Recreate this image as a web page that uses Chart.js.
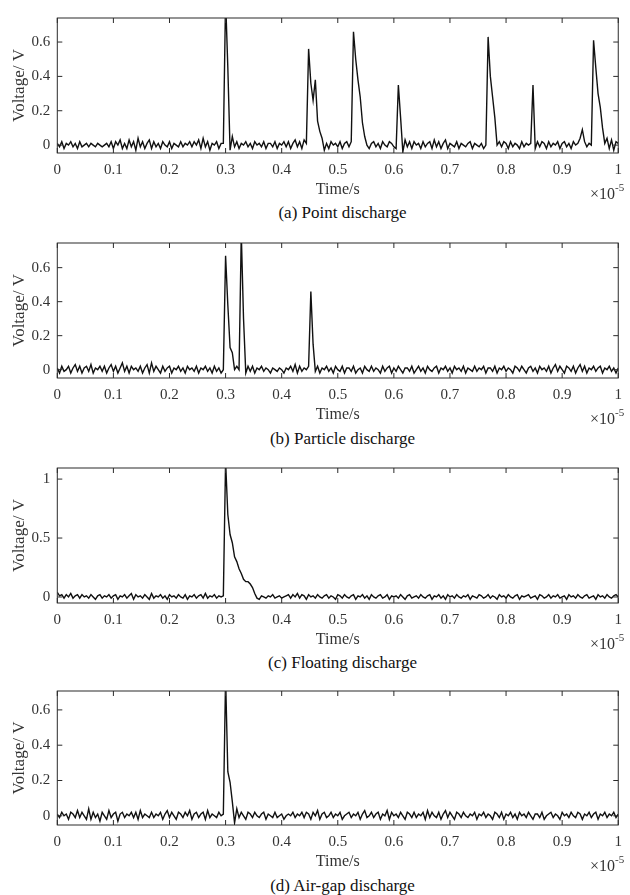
<!DOCTYPE html>
<html>
<head>
<meta charset="utf-8">
<script src="https://cdn.jsdelivr.net/npm/chart.js@4.4.1/dist/chart.umd.min.js"></script>
<style>
  body { margin: 0; background: #fff; }
  #fig { position: relative; width: 630px; height: 895px; overflow: hidden; font-family: "Liberation Serif", "DejaVu Serif", serif; }
  #fig canvas { position: absolute; left: 0; }
  .cap { position: absolute; left: 57px; width: 571px; text-align: center; font-size: 17px; line-height: 20px; color: #111; }
</style>
</head>
<body>
<div id="fig">
  <canvas id="cA"></canvas>
  <canvas id="cB"></canvas>
  <canvas id="cC"></canvas>
  <canvas id="cD"></canvas>
  <div class="cap" id="capA">(a) Point discharge</div>
  <div class="cap" id="capB">(b) Particle discharge</div>
  <div class="cap" id="capC">(c) Floating discharge</div>
  <div class="cap" id="capD">(d) Air-gap discharge</div>
</div>
<script>
// time in units of 1e-5 s
const TIME = [
  0,.004,.008,.012,.016,.02,.024,.028,.032,.036,
  .04,.044,.048,.052,.056,.06,.064,.068,.072,.076,
  .08,.084,.088,.092,.096,.1,.104,.108,.112,.116,
  .12,.124,.128,.132,.136,.14,.144,.148,.152,.156,
  .16,.164,.168,.172,.176,.18,.184,.188,.192,.196,
  .2,.204,.208,.212,.216,.22,.224,.228,.232,.236,
  .24,.244,.248,.252,.256,.26,.264,.268,.272,.276,
  .28,.284,.288,.292,.296,.3,.304,.308,.312,.316,
  .32,.324,.328,.332,.336,.34,.344,.348,.352,.356,
  .36,.364,.368,.372,.376,.38,.384,.388,.392,.396,
  .4,.404,.408,.412,.416,.42,.424,.428,.432,.436,
  .44,.444,.448,.452,.456,.46,.464,.468,.472,.476,
  .48,.484,.488,.492,.496,.5,.504,.508,.512,.516,
  .52,.524,.528,.532,.536,.54,.544,.548,.552,.556,
  .56,.564,.568,.572,.576,.58,.584,.588,.592,.596,
  .6,.604,.608,.612,.616,.62,.624,.628,.632,.636,
  .64,.644,.648,.652,.656,.66,.664,.668,.672,.676,
  .68,.684,.688,.692,.696,.7,.704,.708,.712,.716,
  .72,.724,.728,.732,.736,.74,.744,.748,.752,.756,
  .76,.764,.768,.772,.776,.78,.784,.788,.792,.796,
  .8,.804,.808,.812,.816,.82,.824,.828,.832,.836,
  .84,.844,.848,.852,.856,.86,.864,.868,.872,.876,
  .88,.884,.888,.892,.896,.9,.904,.908,.912,.916,
  .92,.924,.928,.932,.936,.94,.944,.948,.952,.956,
  .96,.964,.968,.972,.976,.98,.984,.988,.992,.996,1
];

const POINT_V = [
  .01,-.01,.02,-.02,.01,.00,.02,-.01,.01,-.02,
  .02,-.01,.00,.01,-.01,.01,.00,-.01,.01,.00,
  -.01,.00,.01,-.01,.02,-.02,.02,.00,.03,-.02,
  .01,-.02,.03,-.01,.02,-.03,.04,-.01,.02,-.02,
  .01,.03,-.02,.02,-.01,.01,-.02,.02,.00,-.01,
  .02,-.02,.01,.00,-.01,.02,-.01,.01,.00,.02,
  -.01,.02,.00,.03,-.02,.04,-.01,.02,-.03,.01,
  .00,.02,-.02,.01,.01,.85,.45,-.03,.05,-.01,
  .02,-.02,.01,.00,.02,-.01,.01,-.02,.02,.00,
  .01,-.01,.02,-.02,.01,.01,-.01,.02,-.02,.01,
  .00,.02,-.01,.02,-.02,.01,.03,-.01,.02,-.02,
  .03,.01,.56,.36,.26,.38,.14,.08,.04,-.03,
  .01,-.02,.02,.00,.01,-.01,.02,-.02,.01,.02,
  -.01,.02,.66,.50,.38,.28,.13,.05,.00,-.02,
  .01,.02,-.01,.01,-.02,.02,.00,-.01,.02,.01,
  -.01,-.02,.35,.16,-.04,.03,-.01,.02,-.02,.02,
  .00,.01,-.02,.02,-.01,.01,.02,-.02,.03,-.01,
  .02,-.02,.01,.03,-.02,.01,.00,-.01,.02,-.02,
  .01,.00,-.01,.01,.02,-.02,.01,.00,-.01,.01,
  -.02,.00,.63,.40,.28,.16,.00,.02,-.01,.02,
  .01,-.02,.02,-.01,.01,.00,-.02,.02,-.01,.01,
  .00,.01,.35,-.02,.02,-.01,.02,.01,-.02,.02,
  -.01,.01,.00,.02,-.02,.01,.02,-.01,.01,-.02,
  .02,.00,.01,.04,.09,.02,-.01,.01,.00,.61,
  .45,.30,.22,.10,.01,.04,-.02,.03,-.03,.02,.01
];

const PARTICLE_V = [
  .01,-.02,.02,-.01,.00,.02,-.02,.01,.03,-.01,
  .02,-.02,.01,.02,-.01,.03,-.02,.01,.00,.02,
  -.01,.02,-.02,.01,.03,-.01,.02,-.02,.01,.04,
  -.01,.02,-.02,.02,.00,.01,-.01,.02,-.02,.01,
  .03,-.02,.04,-.01,.02,.00,-.02,.02,-.01,.01,
  .02,-.02,.01,.00,.02,-.01,.01,-.02,.02,.00,
  .01,-.01,.02,-.02,.01,.00,.02,-.01,.01,-.02,
  .02,-.01,.01,-.02,.00,.67,.38,.13,.10,.00,
  .02,.00,.80,.30,-.02,.02,-.01,.02,-.02,.01,
  .00,.02,-.01,.01,.00,-.02,.01,.00,-.01,.01,
  .00,-.02,.01,.00,.02,-.01,.03,-.02,.02,-.01,
  .01,.00,.02,.46,.15,-.01,.02,-.02,.01,.00,
  .02,-.01,.01,-.02,.02,.00,-.01,.02,-.02,.01,
  .01,-.01,.02,-.02,.00,.01,-.02,.02,.00,-.01,
  .02,-.01,.01,.00,-.02,.02,-.01,.01,.02,-.02,
  .01,-.01,.02,.00,-.02,.01,.01,-.01,.02,-.02,
  .00,.02,-.01,.01,-.02,.02,.00,-.01,.01,.02,
  -.02,.01,.00,.02,-.01,.01,-.02,.02,.00,.01,
  -.01,.02,-.02,.01,.00,-.01,.02,-.01,.01,.00,
  .02,-.02,.01,.01,-.01,.02,-.02,.01,.00,.02,
  -.01,.01,.00,-.02,.02,.01,-.01,.02,.00,-.02,
  .01,.02,-.01,.01,-.02,.02,.00,.01,-.01,.02,
  -.02,.01,.03,-.01,.02,.00,-.02,.02,.01,-.01,
  .02,-.02,.01,.03,-.01,.02,-.02,.01,.00,.02,
  -.01,.01,.02,-.02,.01,.00,.02,-.01,.01,-.02,.01
];

const FLOATING_V = [
  .04,.01,.02,-.01,.02,.00,.03,-.01,.01,.02,
  -.01,.02,.00,.01,-.01,.02,.00,-.02,.01,.02,
  -.01,.01,.00,.02,-.01,.01,.02,-.02,.01,.00,
  .02,-.01,.01,.03,-.02,.02,.00,.01,-.01,.02,
  .00,-.02,.03,-.01,.01,.00,.02,-.01,.01,-.02,
  .02,.00,.01,-.01,.02,.00,-.01,.02,-.02,.01,
  .00,.02,-.01,.01,.02,-.01,.03,-.01,.01,.00,
  .02,-.01,.01,.00,.01,1.15,.70,.53,.46,.34,
  .30,.24,.20,.15,.13,.13,.11,.08,.03,-.01,
  -.02,.01,.00,-.01,.01,.00,.02,-.01,.00,.01,
  -.01,.00,.01,.02,-.01,.02,.00,.03,-.01,.02,
  .01,-.02,.02,.00,.01,-.01,.02,.00,-.01,.01,
  .02,-.01,.01,.00,-.02,.02,.01,-.01,.02,.00,
  -.01,.01,.02,-.02,.01,.00,.02,-.01,.01,-.02,
  .02,.00,-.01,.01,.02,-.01,.00,.02,-.02,.01,
  .00,.01,-.01,.02,.00,-.02,.01,.02,-.01,.00,
  .01,-.01,.02,.00,-.01,.01,.02,-.02,.01,.00,
  .02,-.01,.01,-.02,.02,.00,.01,-.01,.02,.00,
  -.01,.01,.00,.02,-.02,.01,.00,-.01,.02,.01,
  -.01,.00,.02,-.01,.01,.00,-.02,.02,.00,.01,
  -.01,.02,.00,-.01,.01,.02,-.02,.01,.00,.01,
  .02,-.01,.00,.01,-.02,.02,.01,-.01,.00,.02,
  -.01,.01,.00,.02,-.01,.00,.01,-.02,.02,.00,
  .01,-.01,.02,.00,-.01,.01,.02,-.01,.00,.01,
  -.02,.02,.00,.01,-.01,.02,.00,-.01,.01,.02,.00
];

const AIRGAP_V = [
  .01,-.01,.02,.00,.01,-.02,.02,.01,-.01,.03,
  -.01,.02,.00,-.02,.04,-.02,.02,-.01,.01,-.03,
  .02,.00,-.02,.03,-.01,.01,.02,-.03,.01,.02,
  -.01,.01,.00,.02,-.01,.02,-.02,.03,-.01,.01,
  .00,-.01,.02,-.01,.01,.00,.02,-.02,.01,.03,
  -.01,.02,.00,-.02,.02,.01,-.01,.02,.00,.03,
  -.02,.01,.02,-.01,.01,.02,-.02,.03,-.01,.01,
  .00,-.01,.02,.00,.01,.78,.25,.19,.08,-.04,
  .04,-.01,.02,.00,-.02,.02,.01,-.01,.02,.00,
  -.01,.01,.02,-.02,.01,.00,-.01,.02,-.01,.00,
  .01,-.02,.00,.01,.00,.02,-.01,.01,.00,.02,
  -.01,.02,.01,-.02,.02,.00,.03,-.02,.01,.02,
  -.01,.00,.02,-.01,.01,.00,.02,-.02,.00,.01,
  .02,-.01,.01,.00,.02,-.02,.01,.03,-.01,.00,
  .02,-.01,.01,.02,-.02,.01,.00,.03,-.02,.02,
  .00,.01,-.01,.02,.00,-.02,.02,.01,-.01,.02,
  -.01,.01,.00,.02,-.02,.03,-.01,.02,.00,-.01,
  .02,-.02,.01,.03,-.01,.02,.00,-.02,.02,.01,
  -.01,.02,.00,-.01,.01,.00,.02,-.02,.01,.00,
  .02,-.01,.01,.00,-.02,.02,.01,-.01,.02,-.02,
  .01,.00,.02,-.01,.01,-.02,.02,.00,.01,-.01,
  .02,.00,-.02,.01,.01,-.01,.02,-.02,.00,.01,
  .02,-.01,.01,.00,-.02,.02,.00,.01,-.01,.02,
  .00,-.01,.02,.01,-.02,.01,.00,.02,-.01,.01,
  .02,-.02,.01,.00,.02,-.01,.01,.00,.02,-.01,.01
];

const X_TICKS = [0, .1, .2, .3, .4, .5, .6, .7, .8, .9, 1];
const Y_TICKS_SMALL = [0, .2, .4, .6];
const Y_TICKS_BIG = [0, .5, 1];

const FONT = '"Liberation Serif", "DejaVu Serif", serif';
const TEXT = '#333';

// plot box positions on the page
const panels = [
  { id: 'cA', cap: 'capA', volts: POINT_V,    yMin: -0.046, yMax: 0.74,  yTicks: Y_TICKS_SMALL, top: 10.7,  bottom: 152.3 },
  { id: 'cB', cap: 'capB', volts: PARTICLE_V, yMin: -0.049, yMax: 0.745, yTicks: Y_TICKS_SMALL, top: 235.7, bottom: 377.7 },
  { id: 'cC', cap: 'capC', volts: FLOATING_V, yMin: -0.051, yMax: 1.094, yTicks: Y_TICKS_BIG,   top: 460.7, bottom: 602.3 },
  { id: 'cD', cap: 'capD', volts: AIRGAP_V,   yMin: -0.052, yMax: 0.707, yTicks: Y_TICKS_SMALL, top: 683.3, bottom: 825.0 }
];

// MATLAB style box with inward ticks, plus the x10^-5 multiplier
const matlabBox = {
  id: 'matlabBox',
  afterDatasetsDraw(chart) {
    const { ctx, chartArea: a, scales: { x, y } } = chart;
    const len = 5;
    ctx.save();
    ctx.strokeStyle = '#2b2b2b';
    ctx.lineWidth = 1;
    ctx.strokeRect(a.left, a.top, a.right - a.left, a.bottom - a.top);
    ctx.beginPath();
    x.ticks.forEach(t => {
      const px = x.getPixelForValue(t.value);
      ctx.moveTo(px, a.bottom); ctx.lineTo(px, a.bottom - len);
      ctx.moveTo(px, a.top); ctx.lineTo(px, a.top + len);
    });
    y.ticks.forEach(t => {
      const py = y.getPixelForValue(t.value);
      ctx.moveTo(a.left, py); ctx.lineTo(a.left + len, py);
      ctx.moveTo(a.right, py); ctx.lineTo(a.right - len, py);
    });
    ctx.stroke();

    ctx.fillStyle = TEXT;
    ctx.textBaseline = 'middle';
    ctx.textAlign = 'left';
    ctx.font = '16px ' + FONT;
    const base = a.bottom + 42;
    ctx.fillText('\u00d710', 590, base);
    const w = ctx.measureText('\u00d710').width;
    ctx.font = '11px ' + FONT;
    ctx.fillText('-5', 590 + w, base - 7);
    ctx.restore();
  }
};

const X_AXIS_H = 46;

panels.forEach(p => {
  const canvas = document.getElementById(p.id);
  const canvasTop = Math.floor(p.top - 8);
  const h = Math.ceil(p.bottom + X_AXIS_H - canvasTop);
  canvas.width = 630;
  canvas.height = h;
  canvas.style.top = canvasTop + 'px';
  canvas.style.width = '630px';
  canvas.style.height = h + 'px';

  const cap = document.getElementById(p.cap);
  cap.style.top = (p.bottom + 51) + 'px';

  new Chart(canvas.getContext('2d'), {
    type: 'line',
    data: {
      labels: TIME,
      datasets: [{
        data: p.volts,
        borderColor: '#111',
        borderWidth: 1.4,
        pointRadius: 0,
        tension: 0,
        fill: false
      }]
    },
    options: {
      responsive: false,
      animation: false,
      events: [],
      layout: { padding: { top: p.top - canvasTop, left: 0, right: 2, bottom: 0 } },
      plugins: { legend: { display: false }, tooltip: { enabled: false } },
      scales: {
        x: {
          type: 'linear',
          min: 0,
          max: 1,
          afterBuildTicks: s => { s.ticks = X_TICKS.map(v => ({ value: v })); },
          afterFit: s => { s.height = X_AXIS_H; },
          grid: { display: false, drawTicks: false, tickLength: 0 },
          border: { display: false },
          ticks: {
            padding: 8,
            color: TEXT,
            maxRotation: 0,
            autoSkip: false,
            font: { family: FONT, size: 15 },
            callback: v => String(v)
          },
          title: {
            display: true,
            text: 'Time/s',
            color: TEXT,
            font: { family: FONT, size: 16 },
            padding: { top: 0, bottom: 0 }
          }
        },
        y: {
          min: p.yMin,
          max: p.yMax,
          afterBuildTicks: s => { s.ticks = p.yTicks.map(v => ({ value: v })); },
          afterFit: s => { s.width = 57.3; },
          grid: { display: false, drawTicks: false, tickLength: 0 },
          border: { display: false },
          ticks: {
            padding: 7,
            color: TEXT,
            font: { family: FONT, size: 15 },
            callback: v => String(v)
          },
          title: {
            display: true,
            text: 'Voltage/ V',
            color: TEXT,
            font: { family: FONT, size: 17 },
            padding: { top: 9, bottom: 0 }
          }
        }
      }
    },
    plugins: [matlabBox]
  });
});
</script>
</body>
</html>
